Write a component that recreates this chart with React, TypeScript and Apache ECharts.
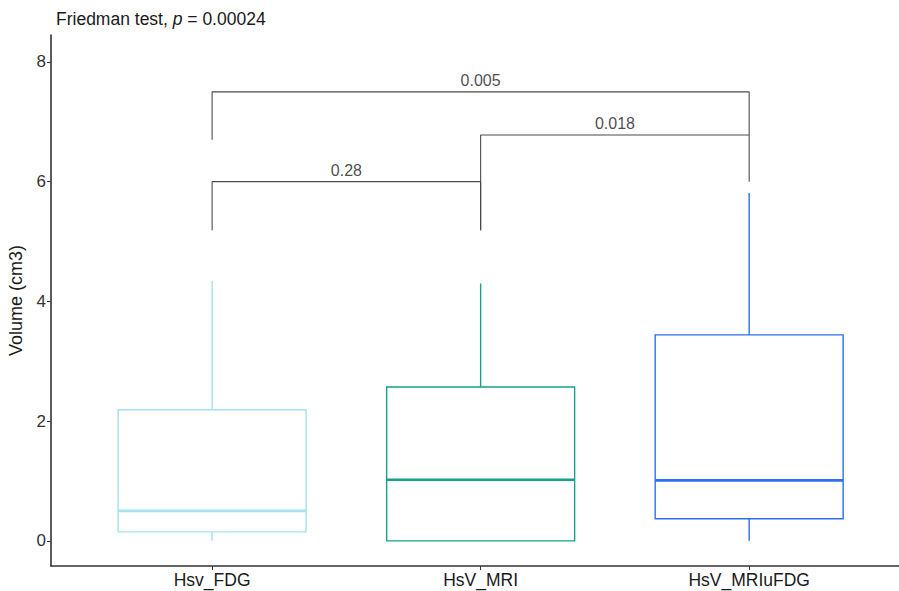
import React, { useEffect, useRef } from "react";
import * as echarts from "echarts";

// ---- data ----
const categories = ["Hsv_FDG", "HsV_MRI", "HsV_MRIuFDG"];
const boxColors = ["#a2e4ea", "#16a08e", "#2e6ef2"];
const whiskerLow = [0, 0, 0];
const q1 = [0.15, 0, 0.37];
const median = [0.5, 1.02, 1.01];
const q3 = [2.19, 2.57, 3.44];
const whiskerHigh = [4.34, 4.3, 5.81];

const yTicks = [0, 2, 4, 6, 8];

const compLeft = [0, 1, 0];
const compRight = [1, 2, 2];
const bracketTop = [6.0, 6.78, 7.5];
const bracketLeftEnd = [5.19, 5.19, 6.7];
const bracketRightEnd = [5.19, 6.0, 6.78];
const pValues = ["0.28", "0.018", "0.005"];

const FONT = "'Liberation Sans', Arial, sans-serif";

export default function App() {
  const ref = useRef<HTMLDivElement>(null);
  useEffect(() => {
    if (!ref.current) return;
    const chart = echarts.init(ref.current, undefined, { renderer: "svg" });

    const boxData = categories.map((_, i) => [
      i,
      whiskerLow[i],
      q1[i],
      median[i],
      q3[i],
      whiskerHigh[i],
    ]);

    const bracketSeries = compLeft.map((l, i) => ({
      type: "line",
      data: [
        [l, bracketLeftEnd[i]],
        [l, bracketTop[i]],
        [compRight[i], bracketTop[i]],
        [compRight[i], bracketRightEnd[i]],
      ],
      symbol: "none",
      lineStyle: { color: "#4a4a4a", width: 1.1 },
      silent: true,
      z: 3,
    }));

    const labelSeries = {
      type: "scatter",
      data: compLeft.map((l, i) => ({
        value: [(l + compRight[i]) / 2, bracketTop[i]],
        label: { formatter: pValues[i] },
      })),
      symbolSize: 1,
      itemStyle: { color: "transparent" },
      label: {
        show: true,
        position: "top",
        distance: 3,
        color: "#1a1a1a",
        fontSize: 16,
        fontFamily: FONT,
      },
      silent: true,
      z: 4,
    };

    chart.setOption({
      animation: false,
      backgroundColor: "#ffffff",
      title: {
        text: "{a|Friedman test, }{i|p}{a| = 0.00024}",
        left: 51,
        top: 5,
        textStyle: {
          fontWeight: "normal",
          rich: {
            a: { fontSize: 17.5, fontFamily: FONT, color: "#1a1a1a", fontWeight: "normal" },
            i: { fontSize: 17.5, fontFamily: FONT, color: "#1a1a1a", fontStyle: "italic", fontWeight: "normal" },
          },
        },
      },
      grid: { left: 51, right: 0, top: 35, bottom: 25, containLabel: false, outerBoundsMode: "none" },
      xAxis: {
        type: "value",
        min: -0.6,
        max: 2.558,
        splitLine: { show: false },
        axisLine: { show: true, onZero: false, lineStyle: { color: "#333", width: 1.6 } },
        axisTick: { show: true, customValues: [0, 1, 2], length: 4, lineStyle: { color: "#333" } },
        axisLabel: {
          customValues: [0, 1, 2],
          formatter: (v: number) => categories[Math.round(v)] ?? "",
          fontSize: 17.5,
          fontFamily: FONT,
          color: "#1a1a1a",
          margin: 5,
        },
      },
      yAxis: {
        type: "value",
        min: -0.42,
        max: 8.45,
        name: "Volume (cm3)",
        nameLocation: "middle",
        nameGap: 26,
        nameTextStyle: { fontSize: 18, fontFamily: FONT, color: "#1a1a1a" },
        splitLine: { show: false },
        axisLine: { show: true, onZero: false, lineStyle: { color: "#333", width: 1.6 } },
        axisTick: { show: true, customValues: yTicks, length: 4, lineStyle: { color: "#333" } },
        axisLabel: {
          customValues: yTicks,
          fontSize: 17,
          fontFamily: FONT,
          color: "#333",
          margin: 5,
        },
      },
      series: [
        {
          type: "custom",
          data: boxData,
          encode: { x: 0, y: [1, 2, 3, 4, 5] },
          silent: true,
          z: 2,
          renderItem: (params: any, api: any) => {
            const x = api.value(0);
            const lo = api.coord([x, api.value(1)]);
            const b1 = api.coord([x, api.value(2)]);
            const md = api.coord([x, api.value(3)]);
            const b3 = api.coord([x, api.value(4)]);
            const hi = api.coord([x, api.value(5)]);
            const w = api.size([0.7, 0])[0];
            const color = boxColors[params.dataIndex];
            const style = { stroke: color, lineWidth: 1.4, fill: null };
            return {
              type: "group",
              children: [
                { type: "line", shape: { x1: lo[0], y1: lo[1], x2: b1[0], y2: b1[1] }, style },
                { type: "line", shape: { x1: b3[0], y1: b3[1], x2: hi[0], y2: hi[1] }, style },
                {
                  type: "rect",
                  shape: { x: lo[0] - w / 2, y: b3[1], width: w, height: b1[1] - b3[1] },
                  style: { stroke: color, lineWidth: 1.4, fill: "#ffffff" },
                },
                {
                  type: "line",
                  shape: { x1: md[0] - w / 2, y1: md[1], x2: md[0] + w / 2, y2: md[1] },
                  style: { stroke: color, lineWidth: 2.6 },
                },
              ],
            };
          },
        },
        ...bracketSeries,
        labelSeries,
      ],
    } as any);
    return () => chart.dispose();
  }, []);

  return (
    <div
      ref={ref}
      style={{ position: "absolute", left: 0, top: 0, width: 899, height: 591, overflow: "hidden" }}
    />
  );
}
